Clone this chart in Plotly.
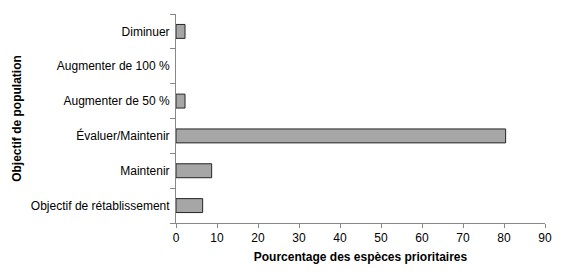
import plotly.graph_objects as go

categories = ["Objectif de rétablissement", "Maintenir", "Évaluer/Maintenir",
              "Augmenter de 50 %", "Augmenter de 100 %", "Diminuer"]
values = [6.5, 8.7, 80.4, 2.2, 0, 2.2]
x_ticks = [0, 10, 20, 30, 40, 50, 60, 70, 80, 90]

fig = go.Figure(go.Bar(
    y=categories, x=values, orientation="h",
    marker=dict(color="#a6a6a6",
                line=dict(color="#262626", width=[1 if v > 0 else 0 for v in values])),
))
font = "Liberation Sans, Arial, sans-serif"
fig.update_layout(
    width=565, height=274,
    margin=dict(l=176, r=20, t=14, b=46),
    paper_bgcolor="white", plot_bgcolor="white",
    bargap=0.6, showlegend=False,
    font=dict(family=font, size=12, color="black"),
)
fig.update_xaxes(
    range=[0, 90], tickvals=x_ticks, showgrid=False, zeroline=False,
    showline=True, linecolor="#888888", linewidth=1,
    ticks="outside", ticklen=4, tickcolor="#888888",
    title=dict(text="<b>Pourcentage des espèces prioritaires</b>", font=dict(size=12), standoff=8),
    tickfont=dict(size=12),
)
fig.update_yaxes(
    categoryorder="array", categoryarray=categories,
    showgrid=False, zeroline=False,
    showline=True, linecolor="#888888", linewidth=1,
    ticks="outside", ticklen=5, tickcolor="#888888", tickson="boundaries",
    ticklabelstandoff=3,
    title=dict(text="<b>Objectif de population</b>", font=dict(size=12), standoff=6),
    tickfont=dict(size=12),
)
fig.write_html("out.html")
